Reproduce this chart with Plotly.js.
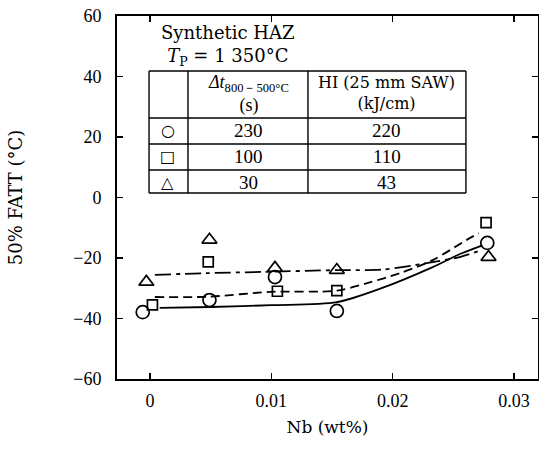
<!DOCTYPE html>
<html>
<head>
<meta charset="utf-8">
<script src="https://cdn.plot.ly/plotly-3.0.1.min.js"></script>
<style>html,body{margin:0;padding:0;background:#fff;}#chart{width:539px;height:455px;}</style>
</head>
<body>
<div id="chart"></div>
<script>
// Measured points (Nb wt%, 50% FATT °C)
const nbCircle   = [-0.0006, 0.0049, 0.0103, 0.0154, 0.0278];
const fattCircle = [-37.9, -33.9, -26.3, -37.5, -15.0];
const nbSquare   = [0.0002, 0.0048, 0.0105, 0.0154, 0.0277];
const fattSquare = [-35.5, -21.3, -31.0, -30.8, -8.3];
const nbTri      = [-0.0003, 0.0049, 0.0103, 0.0154, 0.0279];
const fattTri    = [-27.9, -14.0, -23.3, -24.0, -19.7];

// Hand-drawn trend curves
const nbCurveCircle   = [0.0008, 0.005, 0.010, 0.0154, 0.0192, 0.0233, 0.0256, 0.0274];
const fattCurveCircle = [-36.5, -36.2, -35.6, -34.6, -29.8, -23.0, -18.6, -15.8];
const nbCurveSquare   = [0.0004, 0.0048, 0.0099, 0.0154, 0.0179, 0.0206, 0.0233, 0.0261, 0.0271];
const fattCurveSquare = [-32.9, -32.8, -31.2, -30.8, -28.3, -25.0, -20.7, -14.0, -11.8];
const nbCurveTri      = [0.0004, 0.0047, 0.0093, 0.0154, 0.0192, 0.0228, 0.0256, 0.0273];
const fattCurveTri    = [-25.6, -25.0, -24.6, -24.0, -23.8, -21.7, -19.6, -17.4];

// Inset table contents
const tableTitle   = 'Synthetic HAZ<br><i>T</i><sub>P</sub> = 1 350°C';
const tableHeader2 = '<i>Δt</i><sub>800－500°C</sub><br>(s)';
const tableHeader3 = 'HI (25 mm SAW)<br>(kJ/cm)';
const tableSymbols = ['○', '□', '△'];
const coolingTimes = ['230', '100', '30'];
const heatInputs   = ['220', '110', '43'];

const xTicks = [0, 0.01, 0.02, 0.03];
const xTickText = ['0', '0.01', '0.02', '0.03'];
const yTicks = [-60, -40, -20, 0, 20, 40, 60];

const F = 'Liberation Serif';
const FT = 'DejaVu Serif';
const black = '#000';

function pts(x, y, sym, size) {
  return {x: x, y: y, type: 'scatter', mode: 'markers', cliponaxis: false,
    marker: {symbol: sym, size: size, color: black, line: {color: black, width: 1.7}},
    showlegend: false, hoverinfo: 'skip'};
}
function curve(x, y, dash) {
  return {x: x, y: y, type: 'scatter', mode: 'lines',
    line: {color: black, width: 1.8, dash: dash, shape: 'spline', smoothing: 0.8},
    showlegend: false, hoverinfo: 'skip'};
}

const data = [
  curve(nbCurveCircle, fattCurveCircle, 'solid'),
  curve(nbCurveSquare, fattCurveSquare, '9px,5px'),
  curve(nbCurveTri, fattCurveTri, '16px,5px,4px,5px'),
  pts(nbCircle, fattCircle, 'circle-open', 13),
  pts(nbSquare, fattSquare, 'square-open', 10),
  pts(nbTri, fattTri, 'triangle-up-open', 13)
];

// Table geometry (in data units)
const tL = -0.00008, tC1 = 0.00313, tC2 = 0.01302, tR = 0.02604;
const tRows = [41.8, 26.3, 17.7, 9.1, 1.5];
const shapes = [];
tRows.forEach(function (yy) {
  shapes.push({type: 'line', xref: 'x', yref: 'y', x0: tL, x1: tR, y0: yy, y1: yy, line: {color: black, width: 1.4}});
});
[tL, tC1, tC2, tR].forEach(function (xx) {
  shapes.push({type: 'line', xref: 'x', yref: 'y', x0: xx, x1: xx, y0: tRows[0], y1: tRows[4], line: {color: black, width: 1.4}});
});

const annotations = [];
function ann(x, y, text, size, fam) {
  annotations.push({x: x, y: y, xref: 'x', yref: 'y', text: text, showarrow: false,
    font: {family: fam || F, size: size || 15, color: black}, xanchor: 'center', yanchor: 'middle'});
}
ann(0.0064, 50.1, tableTitle, 18, FT);
const colX = [0.00148, 0.00808, 0.01953];
ann(colX[1], 34.2, tableHeader2, 18);
ann(colX[2], 34.6, tableHeader3, 16, FT);
const rowY = [22.0, 13.4, 5.1];
for (let i = 0; i < 3; i++) {
  ann(colX[0], rowY[i], tableSymbols[i], 16, 'DejaVu Sans');
  ann(colX[1], rowY[i], coolingTimes[i], 19);
  ann(colX[2], rowY[i], heatInputs[i], 19);
}

const axisCommon = {showline: true, linecolor: black, linewidth: 2, mirror: 'ticks',
  ticks: 'inside', ticklen: 6, tickwidth: 1.5, tickcolor: black, showgrid: false, zeroline: false,
  tickfont: {family: F, size: 18, color: black}};

const layout = {
  width: 539, height: 455,
  font: {family: F, color: black},
  margin: {l: 117, r: 1, t: 16, b: 76},
  paper_bgcolor: '#fff', plot_bgcolor: '#fff',
  xaxis: Object.assign({}, axisCommon, {
    range: [-0.00272, 0.03198], tickvals: xTicks, ticktext: xTickText, ticklabelstandoff: 4,
    title: {text: 'Nb (wt%)', font: {family: FT, size: 17, color: black}, standoff: 12}
  }),
  yaxis: Object.assign({}, axisCommon, {
    range: [-60, 60], tickvals: yTicks, ticklabelstandoff: 10,
    title: {text: '50% FATT (°C)', font: {family: FT, size: 18, color: black}, standoff: 46}
  }),
  shapes: shapes,
  annotations: annotations,
  showlegend: false
};

Plotly.newPlot('chart', data, layout, {displayModeBar: false, staticPlot: true});
</script>
</body>
</html>
